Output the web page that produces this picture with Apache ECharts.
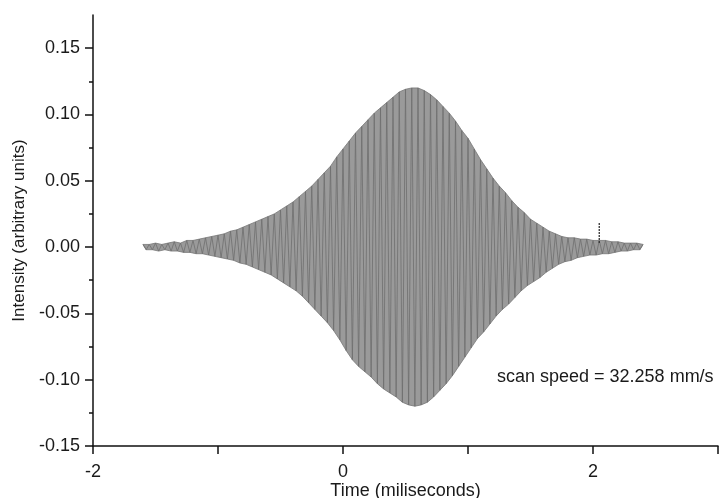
<!DOCTYPE html>
<html>
<head>
<meta charset="utf-8">
<script src="https://cdn.jsdelivr.net/npm/echarts@6/dist/echarts.min.js"></script>
<style>
html,body{margin:0;padding:0;background:#fff;}
#c{width:719px;height:498px;}
</style>
</head>
<body>
<div id="c"></div>
<script>
// Upper (peak) envelope of the fringe signal, read at t = -1.60, -1.55, ... 2.40 ms
const peakStart = -1.60;
const peakStep = 0.05;
const peaks = [
  0.002, 0.002, 0.003, 0.002, 0.003, 0.004, 0.003, 0.005, 0.005, 0.006,
  0.007, 0.008, 0.009, 0.010, 0.012, 0.013, 0.015, 0.017, 0.019, 0.021,
  0.023, 0.025, 0.028, 0.031, 0.034, 0.038, 0.042, 0.046, 0.051, 0.056,
  0.061, 0.068, 0.074, 0.080, 0.086, 0.091, 0.096, 0.101, 0.105, 0.109,
  0.113, 0.117, 0.119, 0.120, 0.120, 0.118, 0.115, 0.111, 0.106, 0.101,
  0.095, 0.088, 0.082, 0.074, 0.066, 0.059, 0.052, 0.046, 0.041, 0.035,
  0.030, 0.026, 0.021, 0.018, 0.015, 0.012, 0.010, 0.008, 0.007, 0.007,
  0.006, 0.006, 0.005, 0.005, 0.005, 0.004, 0.004, 0.003, 0.003, 0.003,
  0.002
];
// Lower (trough) envelope, read at t = -1.575, -1.525, ... 2.375 ms
const troughStart = -1.575;
const troughStep = 0.05;
const troughs = [
  -0.002, -0.002, -0.003, -0.002, -0.003, -0.003, -0.004, -0.004, -0.005, -0.005,
  -0.006, -0.007, -0.008, -0.009, -0.010, -0.012, -0.013, -0.015, -0.017, -0.019,
  -0.021, -0.024, -0.027, -0.030, -0.033, -0.037, -0.042, -0.047, -0.052, -0.057,
  -0.063, -0.070, -0.078, -0.085, -0.090, -0.094, -0.098, -0.103, -0.107, -0.110,
  -0.113, -0.117, -0.119, -0.120, -0.119, -0.117, -0.113, -0.108, -0.103, -0.097,
  -0.090, -0.083, -0.076, -0.069, -0.064, -0.058, -0.052, -0.047, -0.043, -0.038,
  -0.033, -0.029, -0.026, -0.023, -0.019, -0.016, -0.013, -0.011, -0.010, -0.008,
  -0.007, -0.006, -0.006, -0.005, -0.005, -0.004, -0.003, -0.003, -0.002, -0.002
];
// Isolated glitch spike near t = 2.05 ms
const spikeTime = [2.05];
const spikeTop = [0.019];
const spikeBase = [0.003];

const xLabelValues = [-2, 0, 2];
const xTickValues = [-2, -1, 0, 1, 2, 3];
const yLabelValues = [-0.15, -0.10, -0.05, 0.00, 0.05, 0.10, 0.15];
const yMinorValues = [-0.125, -0.075, -0.025, 0.025, 0.075, 0.125];
const annotation = 'scan speed = 32.258 mm/s';

const peakPts = peaks.map((v, i) => [+(peakStart + i * peakStep).toFixed(4), v]);
const troughPts = troughs.map((v, i) => [+(troughStart + i * troughStep).toFixed(4), v]);
const signal = [];
for (let i = 0; i < peakPts.length; i++) {
  signal.push(peakPts[i]);
  if (i < troughPts.length) signal.push(troughPts[i]);
}
const spikeLine = [];
spikeTime.forEach((t, i) => { spikeLine.push([t, spikeBase[i]], [t, spikeTop[i]], [t, null]); });

const font = 'Liberation Sans, Arial, Helvetica, sans-serif';
const txt = '#1a1a1a';
const chart = echarts.init(document.getElementById('c'), null, {renderer: 'canvas'});
chart.setOption({
  animation: false,
  backgroundColor: '#fff',
  grid: {left: 93, right: 1, top: 15, bottom: 52, containLabel: false, outerBoundsMode: 'none'},
  xAxis: {
    type: 'value', min: -2, max: 3, interval: 1,
    name: 'Time (miliseconds)', nameLocation: 'middle', nameGap: 36, nameMoveOverlap: false,
    nameTextStyle: {fontFamily: font, fontSize: 18, color: txt},
    axisLine: {onZero: false, lineStyle: {color: '#111', width: 1.5}},
    axisTick: {show: true, length: 8, inside: false, customValues: xTickValues, lineStyle: {color: '#111', width: 1.5}},
    axisLabel: {customValues: xLabelValues, margin: 17, fontFamily: font, fontSize: 18, color: txt},
    splitLine: {show: false}
  },
  yAxis: [{
    type: 'value', min: -0.15, max: 0.175, interval: 0.05, position: 'left',
    name: 'Intensity (arbitrary units)', nameLocation: 'middle', nameGap: 65, nameMoveOverlap: false,
    nameTextStyle: {fontFamily: font, fontSize: 17, color: txt},
    axisLine: {onZero: false, lineStyle: {color: '#111', width: 1.5}},
    axisTick: {show: true, length: 8, customValues: yLabelValues, lineStyle: {color: '#111', width: 1.5}},
    axisLabel: {customValues: yLabelValues, margin: 13, fontFamily: font, fontSize: 18, color: txt,
      formatter: v => v.toFixed(2)},
    splitLine: {show: false}
  }, {
    type: 'value', min: -0.15, max: 0.175, position: 'left',
    axisLine: {show: false, onZero: false},
    axisTick: {show: true, length: 4, customValues: yMinorValues, lineStyle: {color: '#111', width: 1.5}},
    axisLabel: {show: false},
    splitLine: {show: false}
  }],
  series: [{
    type: 'custom',
    data: [0],
    renderItem: function (params, api) {
      const pts = peakPts.map(p => api.coord(p));
      for (let i = troughPts.length - 1; i >= 0; i--) pts.push(api.coord(troughPts[i]));
      return {type: 'polygon', shape: {points: pts}, style: {fill: '#9a9a9a', stroke: '#777', lineWidth: 0.8}};
    },
    silent: true, z: 1
  }, {
    type: 'line', data: signal, yAxisIndex: 0,
    showSymbol: false, symbol: 'none',
    lineStyle: {color: '#6e6e6e', width: 0.8},
    z: 2
  }, {
    type: 'line', data: spikeLine, yAxisIndex: 0, connectNulls: false,
    showSymbol: false, symbol: 'none',
    lineStyle: {color: '#333', width: 1.3, type: [2, 1]},
    z: 3
  }],
  graphic: [{
    type: 'text', left: 497, top: 368,
    style: {text: annotation, fontFamily: font, fontSize: 18, fill: txt}
  }]
});
</script>
</body>
</html>
